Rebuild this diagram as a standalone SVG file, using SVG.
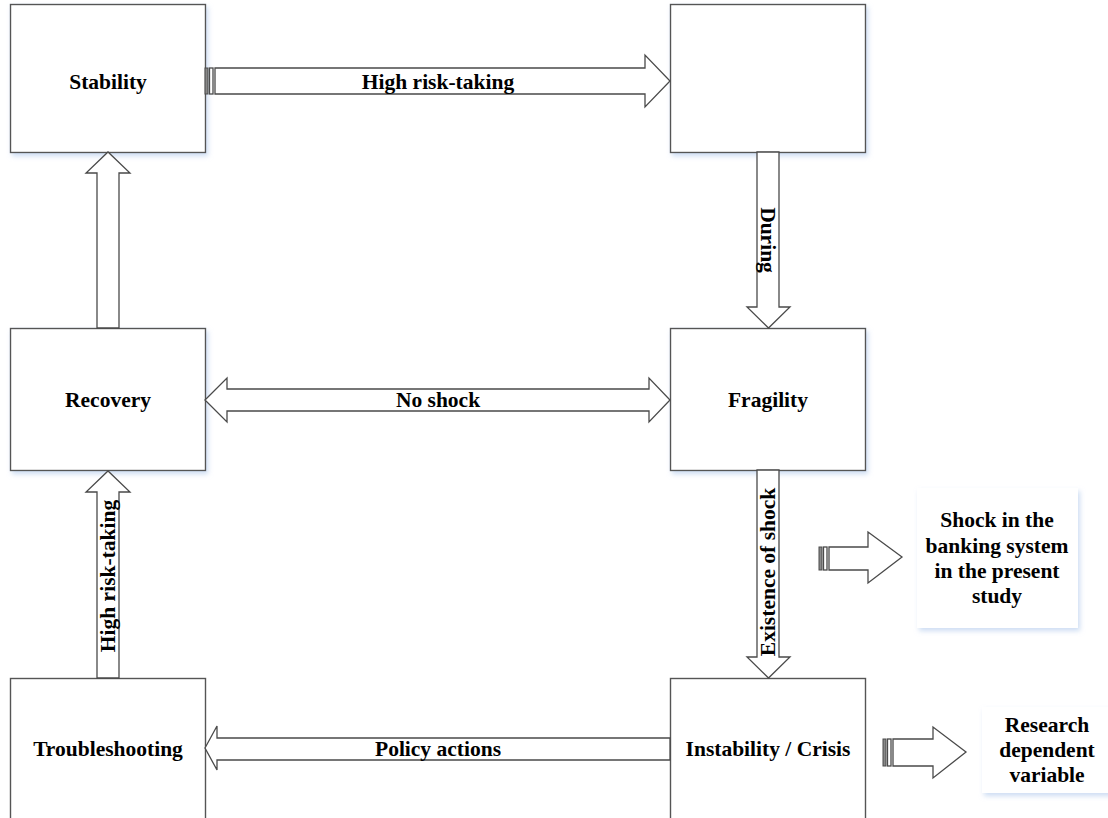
<svg xmlns="http://www.w3.org/2000/svg" width="1108" height="818" viewBox="0 0 1108 818">
<defs>
<filter id="sh2" x="-10%" y="-10%" width="130%" height="130%">
<feGaussianBlur in="SourceAlpha" stdDeviation="2.5" result="b"/>
<feOffset in="b" dx="2" dy="3" result="o"/>
<feFlood flood-color="#b9cfee" flood-opacity="0.7"/>
<feComposite in2="o" operator="in" result="s"/>
<feMerge><feMergeNode in="s"/><feMergeNode in="SourceGraphic"/></feMerge>
</filter>
</defs>
<style>
.box{fill:#fff;stroke:#555;stroke-width:1.4}
.arr{fill:#fff;stroke:#4a4a4a;stroke-width:1.3;stroke-linejoin:miter}
.tail{fill:#888;stroke:#4a4a4a;stroke-width:1}
.tb{fill:#fff;stroke:none}
text{font-family:"Liberation Serif","Times New Roman",serif;font-weight:bold;font-size:21.5px;fill:#000;text-anchor:middle;dominant-baseline:central}
</style>
<rect width="1108" height="818" fill="#fff"/>

<g id="stability"><rect class="box" x="10.5" y="4.5" width="195" height="148" filter="url(#sh2)"/><text x="108" y="82">Stability</text></g>
<g id="top-right"><rect class="box" x="670.5" y="4.5" width="195" height="148" filter="url(#sh2)"/></g>
<g id="recovery"><rect class="box" x="10.5" y="328.5" width="195" height="142" filter="url(#sh2)"/><text x="108" y="400">Recovery</text></g>
<g id="fragility"><rect class="box" x="670.5" y="328.5" width="195" height="142" filter="url(#sh2)"/><text x="768" y="400">Fragility</text></g>
<g id="troubleshooting"><rect class="box" x="10.5" y="678.5" width="195" height="160"/><text x="108" y="749">Troubleshooting</text></g>
<g id="instability"><rect class="box" x="670.5" y="678.5" width="195" height="160"/><text x="768" y="749">Instability / Crisis</text></g>

<g id="shock-note"><rect class="tb" x="917" y="488" width="161" height="140" filter="url(#sh2)"/>
<text x="997" y="520">Shock in the</text><text x="997" y="546">banking system</text><text x="997" y="571">in the present</text><text x="997" y="596">study</text></g>
<g id="research-note"><rect class="tb" x="982" y="707" width="132" height="86" filter="url(#sh2)"/>
<text x="1047" y="725">Research</text><text x="1047" y="750">dependent</text><text x="1047" y="775">variable</text></g>

<g id="connectors">
<rect class="tail" x="205" y="68" width="3" height="26"/>
<rect class="arr" x="209.5" y="68" width="3.5" height="26"/>
<polygon class="arr" points="215,68 645,68 645,55 670,81 645,107 645,94 215,94"/>
<text x="438" y="82">High risk-taking</text>

<polygon class="arr" points="757,152 779,152 779,307 790,307 768.5,328 747,307 757,307"/>
<text transform="translate(768,240) rotate(90)">During</text>

<polygon class="arr" points="97,328 119,328 119,173 130,173 108,152 86,173 97,173"/>

<polygon class="arr" points="205,400 227,378 227,389 649,389 649,378 670,400 649,422 649,411 227,411 227,422"/>
<text x="438" y="400">No shock</text>

<polygon class="arr" points="757,470 779,470 779,657 790,657 768.5,678 747,657 757,657"/>
<text transform="translate(768,572) rotate(-90)">Existence of shock</text>

<polygon class="arr" points="97,678 97,492 86,492 108,471 130,492 119,492 119,678"/>
<text transform="translate(108,576) rotate(-90)">High risk-taking</text>

<polygon class="arr" points="205,748 217,726 217,738 670,738 670,760 217,760 217,770"/>
<text x="438" y="749">Policy actions</text>

<rect class="tail" x="819" y="547" width="3" height="23"/>
<rect class="arr" x="823.5" y="547" width="3.5" height="23"/>
<polygon class="arr" points="829,547 868,547 868,532 902,557 868,583 868,570 829,570"/>

<rect class="tail" x="883" y="739" width="3" height="27"/>
<rect class="arr" x="887.5" y="739" width="3.5" height="27"/>
<polygon class="arr" points="893,739 933,739 933,727 966,752 933,778 933,766 893,766"/>
</g>
</svg>
